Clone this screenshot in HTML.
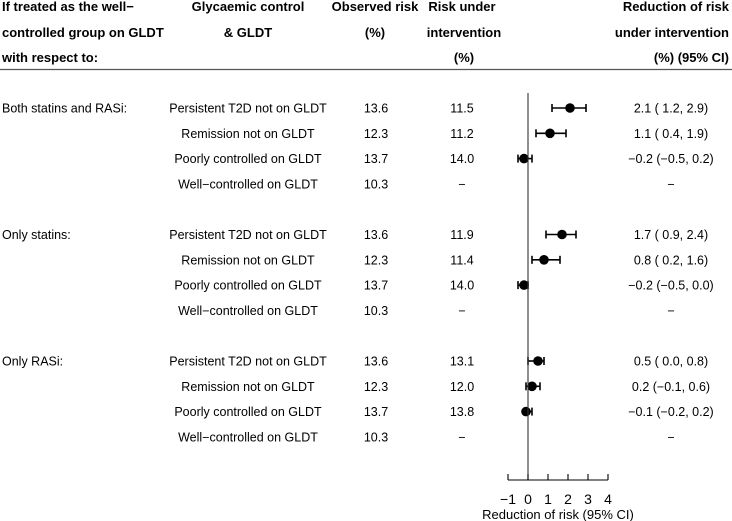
<!DOCTYPE html>
<html><head><meta charset="utf-8"><style>
html,body{margin:0;padding:0;background:#fff;}
svg{display:block;font-family:"Liberation Sans",Arial,sans-serif;}
</style></head><body>
<svg id="chart" width="732" height="521" viewBox="0 0 732 521">
<g id="hdr" font-weight="bold" font-size="13" fill="#000">
 <g>
  <text x="2" y="11">If treated as the well−</text>
  <text x="2" y="37">controlled group on GLDT</text>
  <text x="2" y="62">with respect to:</text>
 </g>
 <g text-anchor="middle">
  <text x="248" y="11">Glycaemic control</text>
  <text x="248" y="37">&amp; GLDT</text>
 </g>
 <g text-anchor="middle">
  <text x="375" y="11">Observed risk</text>
  <text x="375" y="37">(%)</text>
 </g>
 <g text-anchor="middle">
  <text x="462" y="11">Risk under</text>
  <text x="464" y="37">intervention</text>
  <text x="464" y="62">(%)</text>
 </g>
 <g text-anchor="end">
  <text x="729" y="11">Reduction of risk</text>
  <text x="729" y="37">under intervention</text>
  <text x="729" y="62">(%) (95% CI)</text>
 </g>
</g>
<line x1="0" y1="69.5" x2="732" y2="69.5" stroke="#555" stroke-width="1.2"/>
<g id="rows" font-size="12.5" fill="#000"></g>
<g id="plot"></g>
</svg>
<script>
const groups = ["Both statins and RASi:", "Only statins:", "Only RASi:"];
const categories = ["Persistent T2D not on GLDT", "Remission not on GLDT", "Poorly controlled on GLDT", "Well\u2212controlled on GLDT"];
const observed = [["13.6","12.3","13.7","10.3"],["13.6","12.3","13.7","10.3"],["13.6","12.3","13.7","10.3"]];
const intervention = [["11.5","11.2","14.0","\u2212"],["11.9","11.4","14.0","\u2212"],["13.1","12.0","13.8","\u2212"]];
const estimate = [[2.1,1.1,-0.2,null],[1.7,0.8,-0.2,null],[0.5,0.2,-0.1,null]];
const lower = [[1.2,0.4,-0.5,null],[0.9,0.2,-0.5,null],[0.0,-0.1,-0.2,null]];
const upper = [[2.9,1.9,0.2,null],[2.4,1.6,0.0,null],[0.8,0.6,0.2,null]];
const ciText = [["2.1 ( 1.2, 2.9)","1.1 ( 0.4, 1.9)","\u22120.2 (\u22120.5, 0.2)","\u2212"],["1.7 ( 0.9, 2.4)","0.8 ( 0.2, 1.6)","\u22120.2 (\u22120.5, 0.0)","\u2212"],["0.5 ( 0.0, 0.8)","0.2 (\u22120.1, 0.6)","\u22120.1 (\u22120.2, 0.2)","\u2212"]];
const xTicks = [-1,0,1,2,3,4];

const NS="http://www.w3.org/2000/svg";
const x = v => 528 + v*20;
const y = (g,k) => 108 + (g*5 + k)*25.3;
function mk(tag, attrs, parent){const e=document.createElementNS(NS,tag);for(const a in attrs)e.setAttribute(a,attrs[a]);parent.appendChild(e);return e;}
const rows=document.getElementById('rows'), plot=document.getElementById('plot');
function txt(s,xx,yy,anchor,parent){const t=mk('text',{x:xx,y:yy+4.5,'text-anchor':anchor},parent);t.textContent=s;return t;}

groups.forEach((gname,g)=>{
  const gl=txt(gname,2,y(g,0),'start',rows);
  
  
  categories.forEach((c,k)=>{
    const yy=y(g,k);
    const a=txt(c,248,yy,'middle',rows);
    
    
    const b=txt(observed[g][k],376,yy,'middle',rows);
    
    
    const d=txt(intervention[g][k],462,yy,'middle',rows);
    
    
    const e=txt(ciText[g][k],671,yy,'middle',rows);
    
    
    if(estimate[g][k]!==null){
      const grp=mk('g',{},plot);
      
      
      const x1=x(lower[g][k]), x2=x(upper[g][k]);
      mk('line',{x1:x1,y1:yy,x2:x2,y2:yy,stroke:'#000','stroke-width':1.6},grp);
      mk('line',{x1:x1,y1:yy-4,x2:x1,y2:yy+4,stroke:'#000','stroke-width':1.6},grp);
      mk('line',{x1:x2,y1:yy-4,x2:x2,y2:yy+4,stroke:'#000','stroke-width':1.6},grp);
      mk('circle',{cx:x(estimate[g][k]),cy:yy,r:4.8,fill:'#000'},grp);
    }
  });
});
const zl=mk('line',{x1:x(0),y1:93,x2:x(0),y2:480,stroke:'#333','stroke-width':1.1},plot);


const ax=mk('g',{},plot);


mk('line',{x1:x(xTicks[0]),y1:480,x2:x(xTicks[xTicks.length-1]),y2:480,stroke:'#000','stroke-width':1.1},ax);
xTicks.forEach(t=>{
  mk('line',{x1:x(t),y1:474,x2:x(t),y2:480,stroke:'#000','stroke-width':1.1},ax);
  const l=mk('text',{x:x(t),y:504,'text-anchor':'middle','font-size':'14'},ax);
  l.textContent=(t<0?'\u2212'+Math.abs(t):String(t));
  
  
});
const tt=mk('text',{x:x(1.5),y:519,'text-anchor':'middle','font-size':'13'},plot);
tt.textContent='Reduction of risk (95% CI)';


</script>
</body></html>
